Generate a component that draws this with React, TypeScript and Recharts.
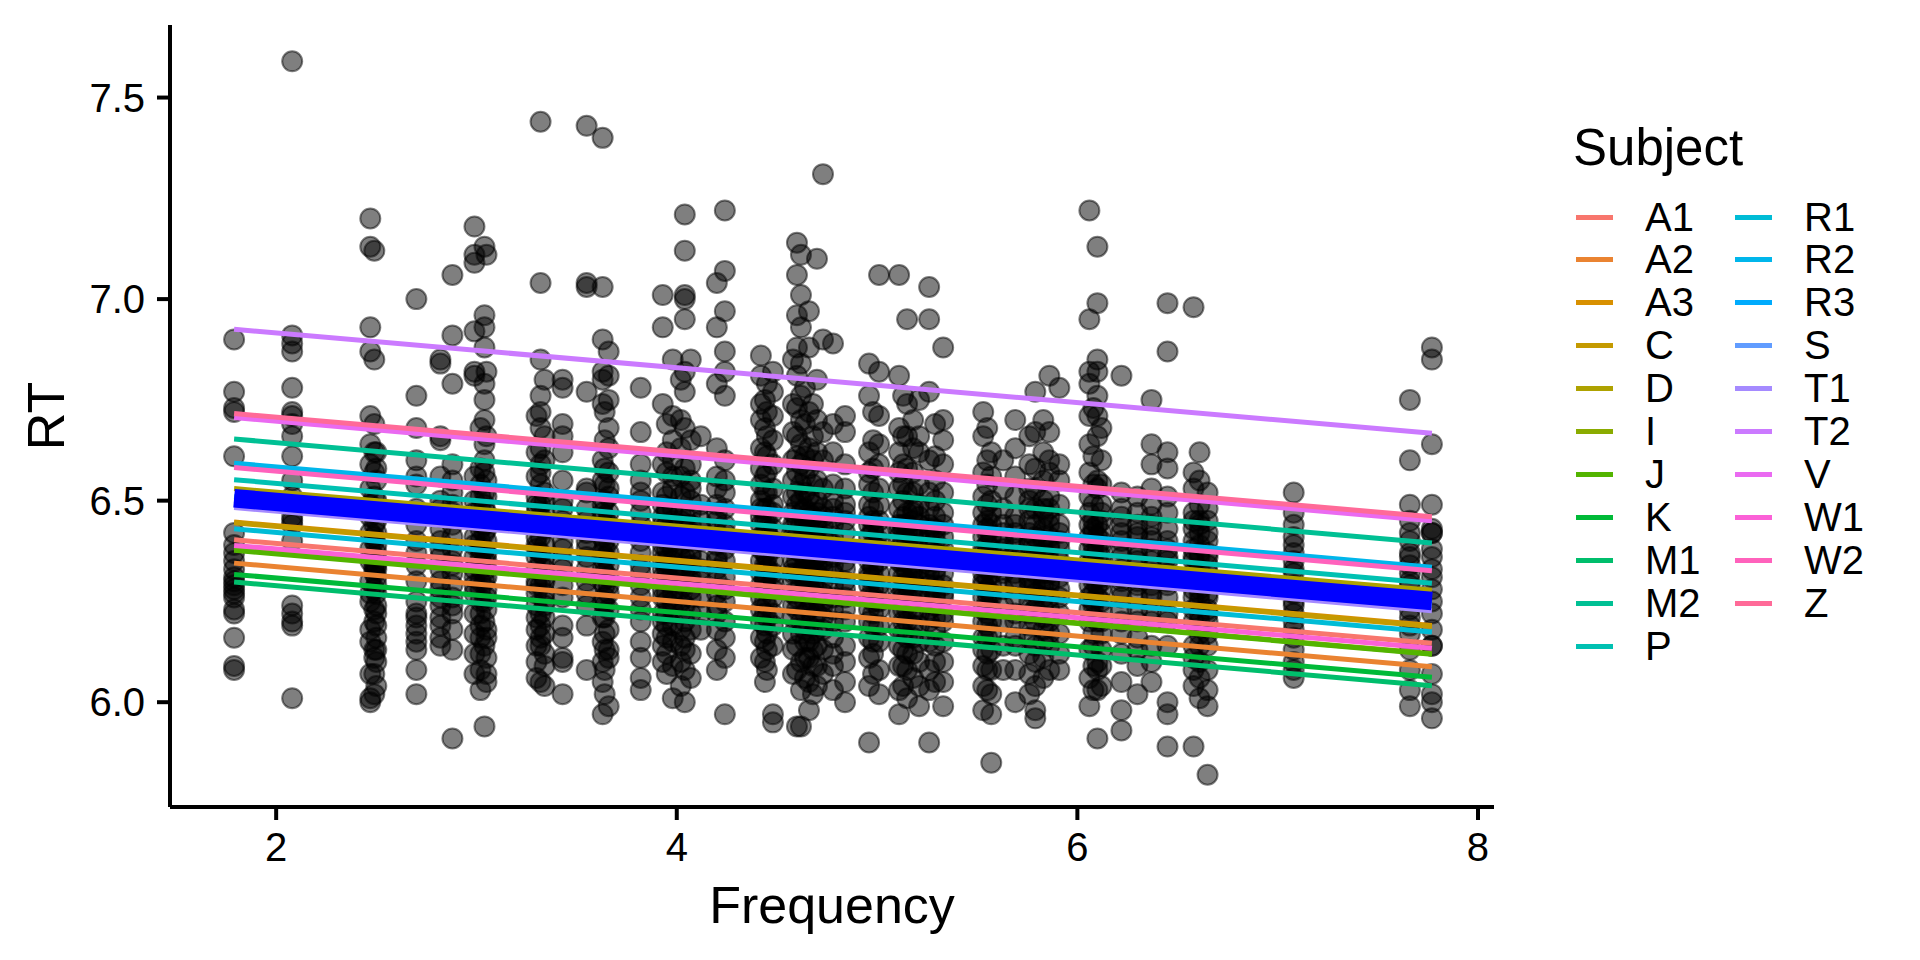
import React from 'react'
import { ComposedChart, Scatter, XAxis, YAxis, Label } from 'recharts'

// word frequency columns (log frequency) and the RTs
const freqs = [
  1.79, 2.08, 2.47, 2.49, 2.5, 2.7, 2.82, 2.88, 2.99, 3.02, 3.04, 3.05, 3.3, 3.32,
  3.34, 3.43, 3.55, 3.63, 3.64, 3.66, 3.82, 3.93, 3.95, 3.98, 4.02, 4.04, 4.07, 4.12,
  4.2, 4.24, 4.42, 4.44, 4.45, 4.48, 4.58, 4.6, 4.62, 4.64, 4.66, 4.68, 4.7, 4.73,
  4.78, 4.84, 4.96, 4.98, 5.01, 5.11, 5.13, 5.15, 5.18, 5.21, 5.26, 5.29, 5.33, 5.53,
  5.55, 5.57, 5.63, 5.69, 5.76, 5.79, 5.83, 5.86, 5.91, 6.06, 6.08, 6.1, 6.12, 6.22,
  6.3, 6.37, 6.45, 6.58, 6.61, 6.65, 7.08, 7.66, 7.77,
]

const rts = [
  [6.9, 6.77, 6.73, 6.72, 6.61, 6.42, 6.39, 6.37, 6.35, 6.33, 6.31, 6.3, 6.29, 6.28, 6.27, 6.26, 6.23, 6.22, 6.16, 6.09, 6.08],
  [7.59, 6.91, 6.89, 6.87, 6.78, 6.72, 6.71, 6.69, 6.66, 6.61, 6.55, 6.51, 6.46, 6.45, 6.44, 6.4, 6.24, 6.22, 6.2, 6.19, 6.01],
  [7.2, 7.13, 6.93, 6.87, 6.71, 6.64, 6.59, 6.53, 6.49, 6.46, 6.42, 6.38, 6.35, 6.3, 6.27, 6.25, 6.18, 6.15, 6.07, 6.01, 6.0],
  [7.12, 6.85, 6.69, 6.62, 6.57, 6.51, 6.47, 6.44, 6.4, 6.36, 6.33, 6.32, 6.28, 6.23, 6.2, 6.13, 6.11, 6.07, 6.02, 6.34, 6.41],
  [6.62, 6.55, 6.5, 6.45, 6.42, 6.39, 6.37, 6.34, 6.31, 6.29, 6.27, 6.24, 6.22, 6.19, 6.16, 6.13, 6.1, 6.04, 6.58, 6.48, 6.33],
  [7.0, 6.76, 6.68, 6.6, 6.56, 6.54, 6.48, 6.44, 6.4, 6.37, 6.34, 6.3, 6.25, 6.22, 6.21, 6.19, 6.17, 6.15, 6.13, 6.08, 6.02],
  [6.85, 6.84, 6.66, 6.65, 6.56, 6.5, 6.46, 6.43, 6.4, 6.36, 6.33, 6.3, 6.28, 6.26, 6.24, 6.21, 6.16, 6.14, 6.38, 6.19, 6.48],
  [7.06, 6.91, 6.79, 6.59, 6.55, 6.52, 6.47, 6.44, 6.41, 6.38, 6.35, 6.32, 6.29, 6.26, 6.22, 6.18, 6.13, 5.91, 6.49, 6.34, 6.24],
  [7.18, 7.11, 7.09, 6.92, 6.82, 6.81, 6.56, 6.5, 6.45, 6.41, 6.39, 6.36, 6.33, 6.29, 6.27, 6.22, 6.17, 6.12, 6.07, 6.47, 6.31],
  [6.68, 6.58, 6.51, 6.46, 6.43, 6.4, 6.38, 6.36, 6.33, 6.3, 6.28, 6.25, 6.22, 6.19, 6.16, 6.12, 6.08, 6.03, 6.54, 6.48, 6.35],
  [7.13, 6.96, 6.93, 6.88, 6.79, 6.75, 6.7, 6.64, 6.6, 6.57, 6.52, 6.49, 6.44, 6.42, 6.38, 6.35, 6.3, 6.25, 6.2, 6.14, 5.94],
  [7.11, 6.82, 6.66, 6.55, 6.47, 6.45, 6.4, 6.37, 6.33, 6.31, 6.28, 6.26, 6.23, 6.18, 6.16, 6.11, 6.07, 6.05, 6.35, 6.43, 6.51],
  [6.71, 6.62, 6.56, 6.51, 6.47, 6.44, 6.41, 6.38, 6.36, 6.33, 6.3, 6.27, 6.24, 6.21, 6.18, 6.14, 6.1, 6.06, 6.49, 6.39, 6.29],
  [7.44, 7.04, 6.85, 6.76, 6.72, 6.68, 6.63, 6.59, 6.57, 6.54, 6.49, 6.46, 6.41, 6.37, 6.35, 6.29, 6.22, 6.19, 6.16, 6.14, 6.05],
  [6.8, 6.66, 6.6, 6.52, 6.47, 6.43, 6.39, 6.33, 6.31, 6.27, 6.25, 6.24, 6.21, 6.12, 6.09, 6.04, 6.44, 6.36, 6.5, 6.3, 6.17],
  [6.8, 6.78, 6.69, 6.66, 6.62, 6.55, 6.5, 6.48, 6.43, 6.4, 6.38, 6.35, 6.33, 6.29, 6.26, 6.19, 6.16, 6.11, 6.1, 6.02, 6.45],
  [7.43, 7.04, 7.03, 6.77, 6.53, 6.52, 6.45, 6.42, 6.38, 6.36, 6.33, 6.3, 6.27, 6.24, 6.19, 6.08, 6.48, 6.4],
  [7.4, 7.03, 6.9, 6.82, 6.8, 6.74, 6.6, 6.55, 6.49, 6.47, 6.43, 6.41, 6.37, 6.33, 6.3, 6.25, 6.21, 6.15, 6.1, 6.05, 5.97],
  [6.72, 6.65, 6.58, 6.54, 6.5, 6.46, 6.43, 6.4, 6.38, 6.35, 6.32, 6.29, 6.26, 6.24, 6.21, 6.17, 6.13, 6.08, 6.02, 6.44, 6.36],
  [6.87, 6.81, 6.75, 6.68, 6.63, 6.57, 6.51, 6.47, 6.44, 6.4, 6.37, 6.34, 6.31, 6.27, 6.23, 6.18, 6.13, 6.11, 5.99, 6.53, 6.29],
  [6.78, 6.67, 6.59, 6.55, 6.5, 6.47, 6.44, 6.42, 6.4, 6.37, 6.34, 6.32, 6.29, 6.26, 6.23, 6.2, 6.11, 6.06, 6.03, 6.52, 6.15],
  [7.01, 6.93, 6.74, 6.59, 6.52, 6.46, 6.44, 6.42, 6.39, 6.37, 6.33, 6.31, 6.28, 6.26, 6.22, 6.2, 6.14, 6.1, 6.49, 6.35, 6.17],
  [6.69, 6.62, 6.57, 6.51, 6.47, 6.44, 6.41, 6.38, 6.35, 6.33, 6.3, 6.27, 6.25, 6.22, 6.19, 6.16, 6.12, 6.07, 6.4, 6.31, 6.48],
  [6.85, 6.71, 6.65, 6.56, 6.53, 6.48, 6.45, 6.4, 6.38, 6.35, 6.32, 6.3, 6.27, 6.23, 6.19, 6.15, 6.09, 6.01, 6.43, 6.6, 6.25],
  [6.8, 6.7, 6.63, 6.56, 6.51, 6.47, 6.44, 6.41, 6.39, 6.36, 6.33, 6.31, 6.28, 6.25, 6.22, 6.18, 6.14, 6.1, 6.04, 6.45, 6.34],
  [7.21, 7.12, 7.01, 7.0, 6.95, 6.82, 6.77, 6.68, 6.58, 6.52, 6.46, 6.41, 6.36, 6.33, 6.29, 6.24, 6.2, 6.16, 6.13, 6.08, 6.0],
  [6.85, 6.65, 6.59, 6.55, 6.5, 6.47, 6.44, 6.4, 6.37, 6.34, 6.31, 6.28, 6.26, 6.22, 6.18, 6.12, 6.06, 6.42, 6.36, 6.53, 6.3],
  [6.66, 6.49, 6.45, 6.4, 6.35, 6.3, 6.26, 6.22, 6.18, 6.33, 6.43],
  [7.04, 6.93, 6.79, 6.63, 6.56, 6.53, 6.49, 6.45, 6.42, 6.39, 6.36, 6.33, 6.3, 6.27, 6.24, 6.22, 6.18, 6.13, 6.08, 6.47, 6.35],
  [7.22, 7.07, 6.97, 6.87, 6.82, 6.76, 6.6, 6.55, 6.52, 6.48, 6.42, 6.38, 6.35, 6.31, 6.28, 6.25, 6.2, 6.16, 6.11, 5.97, 6.44],
  [6.86, 6.81, 6.74, 6.7, 6.63, 6.58, 6.54, 6.5, 6.46, 6.44, 6.41, 6.38, 6.35, 6.32, 6.29, 6.26, 6.23, 6.2, 6.16, 6.11, 6.48],
  [6.75, 6.68, 6.62, 6.56, 6.52, 6.48, 6.45, 6.42, 6.39, 6.37, 6.34, 6.31, 6.28, 6.25, 6.22, 6.19, 6.15, 6.1, 6.05, 6.4, 6.3],
  [6.79, 6.72, 6.66, 6.61, 6.57, 6.52, 6.48, 6.45, 6.42, 6.39, 6.36, 6.33, 6.31, 6.28, 6.24, 6.21, 6.17, 6.13, 6.08, 6.43, 6.34],
  [6.82, 6.77, 6.71, 6.65, 6.59, 6.53, 6.49, 6.47, 6.43, 6.4, 6.38, 6.35, 6.32, 6.3, 6.26, 6.22, 6.19, 6.14, 5.97, 5.95, 6.28],
  [6.85, 6.74, 6.67, 6.6, 6.55, 6.51, 6.47, 6.44, 6.41, 6.38, 6.35, 6.33, 6.3, 6.27, 6.24, 6.21, 6.17, 6.13, 6.07, 6.43, 6.32],
  [7.14, 7.06, 6.96, 6.88, 6.81, 6.73, 6.66, 6.61, 6.57, 6.52, 6.49, 6.45, 6.41, 6.38, 6.35, 6.32, 6.26, 6.23, 6.14, 6.08, 5.94],
  [7.11, 7.01, 6.93, 6.84, 6.76, 6.7, 6.64, 6.59, 6.54, 6.5, 6.47, 6.44, 6.4, 6.37, 6.32, 6.29, 6.2, 6.17, 6.1, 6.03, 5.94],
  [6.78, 6.69, 6.61, 6.56, 6.52, 6.48, 6.45, 6.42, 6.39, 6.36, 6.34, 6.31, 6.28, 6.25, 6.22, 6.18, 6.15, 6.11, 6.06, 6.44, 6.3],
  [6.97, 6.88, 6.72, 6.63, 6.58, 6.51, 6.47, 6.44, 6.41, 6.38, 6.35, 6.31, 6.29, 6.26, 6.23, 6.19, 6.15, 6.11, 6.05, 5.98, 6.33],
  [6.74, 6.66, 6.6, 6.54, 6.49, 6.46, 6.43, 6.4, 6.37, 6.35, 6.32, 6.29, 6.27, 6.24, 6.21, 6.17, 6.13, 6.09, 6.02, 6.41, 6.33],
  [7.1, 6.8, 6.7, 6.62, 6.55, 6.5, 6.47, 6.43, 6.4, 6.38, 6.34, 6.32, 6.28, 6.26, 6.22, 6.18, 6.14, 6.09, 6.04, 6.36, 6.45],
  [7.31, 6.9, 6.67, 6.6, 6.53, 6.48, 6.44, 6.41, 6.37, 6.33, 6.3, 6.27, 6.24, 6.21, 6.18, 6.13, 6.07, 6.35, 6.46, 6.39, 6.25],
  [6.89, 6.69, 6.62, 6.54, 6.5, 6.46, 6.44, 6.41, 6.39, 6.36, 6.32, 6.29, 6.26, 6.23, 6.2, 6.16, 6.12, 6.09, 6.03, 6.34, 6.48],
  [6.71, 6.67, 6.59, 6.53, 6.49, 6.45, 6.42, 6.38, 6.35, 6.33, 6.3, 6.26, 6.23, 6.2, 6.14, 6.1, 6.05, 6.0, 6.47, 6.37, 6.28],
  [6.84, 6.76, 6.62, 6.57, 6.54, 6.49, 6.44, 6.41, 6.38, 6.35, 6.32, 6.29, 6.26, 6.23, 6.2, 6.16, 6.11, 6.04, 5.9, 6.46, 6.31],
  [6.72, 6.65, 6.58, 6.52, 6.48, 6.45, 6.42, 6.39, 6.36, 6.34, 6.31, 6.28, 6.25, 6.22, 6.19, 6.15, 6.12, 6.07, 6.43, 6.33, 6.26],
  [7.06, 6.82, 6.71, 6.64, 6.59, 6.53, 6.49, 6.45, 6.42, 6.38, 6.35, 6.32, 6.29, 6.27, 6.23, 6.19, 6.15, 6.08, 6.02, 6.4, 6.25],
  [7.06, 6.81, 6.68, 6.62, 6.57, 6.53, 6.48, 6.44, 6.41, 6.38, 6.35, 6.32, 6.29, 6.26, 6.22, 6.18, 6.14, 6.09, 6.03, 5.97, 6.43],
  [6.76, 6.66, 6.59, 6.54, 6.5, 6.46, 6.43, 6.4, 6.37, 6.34, 6.31, 6.28, 6.26, 6.23, 6.2, 6.17, 6.13, 6.09, 6.04, 6.44, 6.35],
  [6.95, 6.74, 6.66, 6.58, 6.52, 6.47, 6.44, 6.4, 6.37, 6.35, 6.32, 6.29, 6.26, 6.23, 6.2, 6.16, 6.12, 6.08, 6.01, 6.42, 6.3],
  [6.7, 6.63, 6.57, 6.52, 6.48, 6.45, 6.42, 6.39, 6.36, 6.33, 6.3, 6.28, 6.25, 6.22, 6.19, 6.16, 6.12, 6.06, 6.41, 6.31, 6.47],
  [6.75, 6.66, 6.62, 6.54, 6.49, 6.44, 6.41, 6.38, 6.35, 6.33, 6.3, 6.27, 6.26, 6.22, 6.19, 6.15, 6.1, 6.04, 5.99, 6.36, 6.46],
  [7.03, 6.95, 6.77, 6.6, 6.52, 6.48, 6.44, 6.41, 6.38, 6.35, 6.32, 6.29, 6.26, 6.23, 6.2, 6.15, 6.08, 6.03, 5.9, 6.43, 6.34],
  [6.69, 6.61, 6.55, 6.5, 6.46, 6.43, 6.4, 6.37, 6.35, 6.32, 6.29, 6.26, 6.24, 6.21, 6.18, 6.14, 6.1, 6.05, 6.42, 6.33, 6.27],
  [6.88, 6.7, 6.65, 6.59, 6.52, 6.47, 6.44, 6.41, 6.38, 6.35, 6.32, 6.29, 6.26, 6.22, 6.2, 6.15, 6.1, 6.05, 5.99, 6.36, 6.27],
  [6.72, 6.66, 6.57, 6.51, 6.47, 6.44, 6.41, 6.38, 6.35, 6.32, 6.29, 6.26, 6.23, 6.2, 6.16, 6.13, 6.09, 6.04, 5.98, 6.37, 6.3],
  [6.68, 6.6, 6.54, 6.49, 6.45, 6.42, 6.39, 6.37, 6.34, 6.31, 6.28, 6.25, 6.22, 6.19, 6.16, 6.12, 6.08, 6.03, 6.43, 6.33, 6.27],
  [6.62, 6.56, 6.5, 6.47, 6.44, 6.41, 6.38, 6.35, 6.32, 6.29, 6.26, 6.23, 6.2, 6.17, 6.13, 6.08, 6.02, 5.97, 5.85, 6.36, 6.27],
  [6.6, 6.53, 6.48, 6.44, 6.4, 6.38, 6.35, 6.32, 6.28, 6.24, 6.2, 6.14, 6.08, 6.33, 6.42],
  [6.7, 6.63, 6.56, 6.51, 6.46, 6.44, 6.4, 6.38, 6.35, 6.32, 6.29, 6.26, 6.22, 6.2, 6.16, 6.14, 6.08, 6.0, 6.36, 6.3, 6.42],
  [6.66, 6.59, 6.53, 6.48, 6.45, 6.42, 6.39, 6.36, 6.33, 6.31, 6.28, 6.25, 6.22, 6.19, 6.16, 6.12, 6.07, 6.02, 6.4, 6.3, 6.5],
  [6.77, 6.67, 6.58, 6.53, 6.48, 6.44, 6.41, 6.38, 6.35, 6.32, 6.29, 6.26, 6.23, 6.2, 6.14, 6.1, 6.04, 5.98, 5.96, 6.36, 6.27],
  [6.7, 6.62, 6.55, 6.5, 6.46, 6.43, 6.4, 6.37, 6.34, 6.32, 6.29, 6.26, 6.23, 6.21, 6.18, 6.15, 6.11, 6.06, 6.41, 6.31, 6.48],
  [6.81, 6.67, 6.6, 6.57, 6.51, 6.46, 6.44, 6.41, 6.38, 6.35, 6.32, 6.29, 6.26, 6.23, 6.2, 6.17, 6.14, 6.08, 6.39, 6.3, 6.48],
  [6.78, 6.59, 6.55, 6.49, 6.44, 6.4, 6.38, 6.35, 6.31, 6.28, 6.26, 6.22, 6.17, 6.12, 6.08, 6.42, 6.33],
  [7.22, 6.95, 6.82, 6.79, 6.71, 6.64, 6.57, 6.51, 6.47, 6.44, 6.41, 6.38, 6.35, 6.32, 6.29, 6.26, 6.23, 6.2, 6.13, 6.06, 5.99],
  [6.73, 6.61, 6.54, 6.49, 6.45, 6.42, 6.39, 6.36, 6.33, 6.3, 6.27, 6.25, 6.21, 6.17, 6.09, 6.03, 6.37, 6.31, 6.43, 6.24, 6.14],
  [7.13, 6.99, 6.85, 6.82, 6.76, 6.71, 6.66, 6.55, 6.53, 6.44, 6.41, 6.38, 6.35, 6.32, 6.26, 6.2, 6.1, 6.08, 6.03, 5.91, 6.29],
  [6.68, 6.6, 6.54, 6.49, 6.45, 6.42, 6.39, 6.36, 6.34, 6.31, 6.28, 6.25, 6.23, 6.2, 6.17, 6.13, 6.09, 6.04, 6.4, 6.3, 6.47],
  [6.81, 6.52, 6.48, 6.44, 6.4, 6.38, 6.36, 6.33, 6.3, 6.28, 6.26, 6.23, 6.2, 6.17, 6.12, 6.05, 5.98, 5.93, 6.42, 6.31, 6.46],
  [6.51, 6.47, 6.44, 6.41, 6.38, 6.35, 6.32, 6.29, 6.26, 6.23, 6.2, 6.16, 6.13, 6.09, 6.02, 6.36, 6.3, 6.42],
  [6.75, 6.64, 6.59, 6.53, 6.49, 6.44, 6.41, 6.38, 6.35, 6.32, 6.29, 6.26, 6.23, 6.2, 6.14, 6.1, 6.05, 6.46, 6.33, 6.27, 6.4],
  [6.99, 6.87, 6.62, 6.58, 6.51, 6.47, 6.43, 6.4, 6.38, 6.35, 6.32, 6.29, 6.26, 6.22, 6.2, 6.14, 6.0, 5.97, 5.89, 6.36, 6.3],
  [6.98, 6.57, 6.53, 6.47, 6.43, 6.4, 6.38, 6.35, 6.32, 6.3, 6.26, 6.23, 6.2, 6.14, 6.11, 6.08, 6.04, 5.89, 6.36, 6.28, 6.45],
  [6.62, 6.55, 6.49, 6.45, 6.42, 6.39, 6.36, 6.33, 6.31, 6.28, 6.25, 6.22, 6.2, 6.17, 6.14, 6.1, 6.06, 6.01, 6.37, 6.27, 6.44],
  [6.52, 6.48, 6.45, 6.4, 6.37, 6.34, 6.3, 6.27, 6.26, 6.23, 6.2, 6.17, 6.14, 6.08, 6.03, 5.99, 5.82, 6.42, 6.32, 6.22, 6.36],
  [6.52, 6.47, 6.44, 6.41, 6.39, 6.37, 6.35, 6.32, 6.29, 6.27, 6.24, 6.22, 6.2, 6.18, 6.16, 6.13, 6.1, 6.08, 6.06, 6.33, 6.25],
  [6.75, 6.6, 6.49, 6.45, 6.42, 6.4, 6.37, 6.34, 6.32, 6.29, 6.26, 6.23, 6.21, 6.17, 6.13, 6.08, 6.03, 5.99, 6.36, 6.3, 6.19],
  [6.88, 6.85, 6.64, 6.49, 6.43, 6.42, 6.42, 6.38, 6.36, 6.33, 6.31, 6.28, 6.25, 6.22, 6.18, 6.14, 6.14, 6.07, 6.02, 6.0, 5.96],
]

// per-subject fitted lines: RT at the lowest and highest frequency
const subjects = ['A1', 'A2', 'A3', 'C', 'D', 'I', 'J', 'K', 'M1', 'M2', 'P', 'R1', 'R2', 'R3', 'S', 'T1', 'T2', 'V', 'W1', 'W2', 'Z']
const subjectColors = [
  '#F8766D', '#EA8331', '#D89000', '#C49A00', '#AEA200', '#8AAB00', '#53B400',
  '#00BA38', '#00BE6C', '#00C094', '#00C1B2', '#00BCD6', '#00B6EB', '#00ABFD',
  '#619CFF', '#A58AFF', '#CB7AFF', '#EA6AF1', '#FB61D7', '#FF62BC', '#FF6A98',
]
const rtAtMinFreq = [6.403, 6.345, 6.447, 6.445, 6.53, 6.38, 6.377, 6.317, 6.298, 6.653, 6.552, 6.43, 6.593, 6.51, 6.5, 6.483, 6.925, 6.706, 6.389, 6.582, 6.716]
const rtAtMaxFreq = [6.146, 6.088, 6.19, 6.188, 6.278, 6.12, 6.119, 6.062, 6.041, 6.395, 6.295, 6.174, 6.335, 6.25, 6.24, 6.227, 6.667, 6.45, 6.134, 6.326, 6.46]
const freqRange = [1.79, 7.77]
const overallFit = [6.506, 6.251]

const FONT = '"Liberation Sans", Arial, Helvetica, sans-serif'

const points = freqs.flatMap((f, i) => rts[i].map((rt) => ({ x: f, y: rt })))

const Dot = (props: any) => (
  <circle
    cx={props.cx}
    cy={props.cy}
    r={10}
    fill="rgba(0,0,0,0.5)"
    stroke="rgba(0,0,0,0.5)"
    strokeWidth={2}
  />
)

const NoDot = () => <g />

const axisTick = { fill: '#000', fontSize: 40, fontFamily: FONT }

const fitSegment = (a: number, b: number) => [
  { x: freqRange[0], y: a },
  { x: freqRange[1], y: b },
]

const SubjectLegend = () => {
  const rows = 11
  return (
    <div style={{ position: 'absolute', left: 1573, top: 118, fontFamily: FONT, color: '#000' }}>
      <div style={{ fontSize: 51, lineHeight: '60px' }}>Subject</div>
      {subjects.map((s, i) => {
        const col = Math.floor(i / rows)
        const row = i % rows
        return (
          <div
            key={s}
            style={{
              position: 'absolute',
              left: 3 + col * 159,
              top: 78 + row * 42.96,
              height: 42,
              display: 'flex',
              alignItems: 'center',
            }}
          >
            <div style={{ width: 37, height: 5, background: subjectColors[i] }} />
            <span style={{ marginLeft: 32, fontSize: 40 }}>{s}</span>
          </div>
        )
      })}
    </div>
  )
}

const App = () => {
  return (
    <div style={{ position: 'absolute', left: 0, top: 0, width: 1920, height: 960, background: '#fff' }}>
      <ComposedChart width={1920} height={960} margin={{ top: 25, right: 426, bottom: 0, left: 0 }}>
        <XAxis
          type="number"
          dataKey="x"
          domain={[1.47, 8.08]}
          ticks={[2, 4, 6, 8]}
          allowDataOverflow
          interval={0}
          height={153}
          tick={axisTick}
          tickSize={13}
          tickMargin={13}
          axisLine={{ stroke: '#000', strokeWidth: 4 }}
          tickLine={{ stroke: '#000', strokeWidth: 4 }}
        >
          <Label
            content={(p: any) => {
              const vb = p.viewBox
              return (
                <text x={vb.x + vb.width / 2} y={923} textAnchor="middle" fontSize={52} fontFamily={FONT} fill="#000">
                  Frequency
                </text>
              )
            }}
          />
        </XAxis>
        <YAxis
          type="number"
          dataKey="y"
          domain={[5.74, 7.68]}
          ticks={[6, 6.5, 7, 7.5]}
          tickFormatter={(v: number) => v.toFixed(1)}
          allowDataOverflow
          interval={0}
          width={170}
          tick={axisTick}
          tickSize={13}
          tickMargin={12}
          axisLine={{ stroke: '#000', strokeWidth: 4 }}
          tickLine={{ stroke: '#000', strokeWidth: 4 }}
        >
          <Label
            content={(p: any) => {
              const vb = p.viewBox
              const cy = vb.y + vb.height / 2
              return (
                <text
                  x={64}
                  y={cy}
                  transform={`rotate(-90 64 ${cy})`}
                  textAnchor="middle"
                  fontSize={52}
                  fontFamily={FONT}
                  fill="#000"
                >
                  RT
                </text>
              )
            }}
          />
        </YAxis>
        <Scatter data={points} dataKey="y" shape={Dot} isAnimationActive={false} />
        {subjects.map((s, i) => (
          <Scatter
            key={s}
            data={fitSegment(rtAtMinFreq[i], rtAtMaxFreq[i])}
            dataKey="y"
            fill={subjectColors[i]}
            line={{ stroke: subjectColors[i], strokeWidth: 5 }}
            lineType="joint"
            shape={NoDot}
            isAnimationActive={false}
          />
        ))}
        <Scatter
          data={fitSegment(overallFit[0], overallFit[1])}
          dataKey="y"
          fill="#0000FF"
          line={{ stroke: '#0000FF', strokeWidth: 18.5 }}
          lineType="joint"
          shape={NoDot}
          isAnimationActive={false}
        />
      </ComposedChart>
      <SubjectLegend />
    </div>
  )
}

export default App
